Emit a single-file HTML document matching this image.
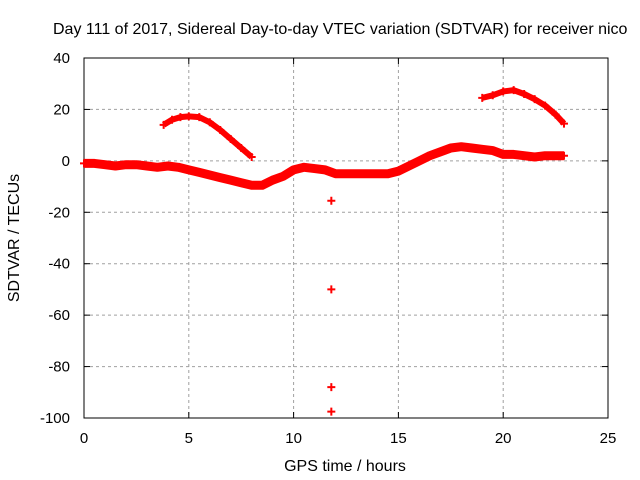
<!DOCTYPE html>
<html><head><meta charset="utf-8"><style>
body{margin:0;background:#fff}
svg{display:block;font-family:"Liberation Sans",sans-serif}
</style></head><body>
<svg id="c" width="640" height="480"></svg>
<script>
const mainT=[0,0.5,1,1.5,2,2.5,3,3.5,4,4.5,5,5.5,6,6.5,7,7.5,8,8.5,9,9.5,10,10.5,11,11.5,12,12.5,13,13.5,14,14.5,15,15.5,16,16.5,17,17.5,18,18.5,19,19.5,20,20.5,21,21.5,22,22.5,22.9];
const mainV=[-1,-1,-1.5,-2,-1.5,-1.5,-2,-2.5,-2,-2.5,-3.5,-4.5,-5.5,-6.5,-7.5,-8.5,-9.5,-9.5,-7.5,-6,-3.5,-2.5,-3,-3.5,-5,-5,-5,-5,-5,-5,-4,-2,0,2,3.5,5,5.5,5,4.5,4,2.5,2.5,2,1.5,2,2,2];
const arc1T=[3.8,4.2,4.6,5,5.5,6,6.5,7,7.5,8];
const arc1V=[14,16,17,17.3,17,15,12,8.5,5,1.5];
const arc2T=[19,19.5,20,20.5,21,21.5,22,22.5,22.9];
const arc2V=[24.5,25.5,27,27.5,26,24,21.5,18,14.5];
const outT=[11.8,11.8,11.8,11.8];
const outV=[-15.5,-50,-88,-97.5];
const xTicks=[0,5,10,15,20,25];
const yTicks=[40,20,0,-20,-40,-60,-80,-100];
const X0=84,X1=608,Y0=58,Y1=418;
const sx=v=>X0+(v-0)/(25-0)*(X1-X0);
const sy=v=>Y1-(v+100)/(140)*(Y1-Y0);
const svg=document.getElementById('c');
const NS='http://www.w3.org/2000/svg';
function mk(tag,attrs,parent){const e=document.createElementNS(NS,tag);for(const k in attrs)e.setAttribute(k,attrs[k]);(parent||svg).appendChild(e);return e;}
yTicks.forEach(v=>{if(v===40||v===-100)return;
 const g=mk('line',{x1:X0,x2:X1,y1:sy(v),y2:sy(v),stroke:'#a0a0a0','stroke-dasharray':'3,3'});
 
 });
xTicks.forEach(v=>{if(v===0||v===25)return;
 const g=mk('line',{x1:sx(v),x2:sx(v),y1:Y0,y2:Y1,stroke:'#a0a0a0','stroke-dasharray':'3,3'});
 
 });
const frame=mk('rect',{x:X0,y:Y0,width:X1-X0,height:Y1-Y0,fill:'none',stroke:'#000','stroke-width':1});


yTicks.forEach(v=>{
 mk('line',{x1:X0,x2:X0+6,y1:sy(v),y2:sy(v),stroke:'#000'});
 mk('line',{x1:X1,x2:X1-6,y1:sy(v),y2:sy(v),stroke:'#000'});
 const t=mk('text',{x:X0-14,y:sy(v)+5,'text-anchor':'end','font-size':15});t.textContent=v;
 
 });
xTicks.forEach(v=>{
 mk('line',{x1:sx(v),x2:sx(v),y1:Y1,y2:Y1-6,stroke:'#000'});
 mk('line',{x1:sx(v),x2:sx(v),y1:Y0,y2:Y0+6,stroke:'#000'});
 const t=mk('text',{x:sx(v),y:Y1+25,'text-anchor':'middle','font-size':15});t.textContent=v;
 
 });
function series(T,V,name,w){
 const pts=T.map((t,i)=>sx(t)+','+sy(V[i])).join(' ');
 const p=mk('polyline',{points:pts,fill:'none',stroke:'#ff0000','stroke-width':w,'stroke-linejoin':'round'});
 
 
 T.forEach((t,i)=>{const x=sx(t),y=sy(V[i]);
  const m=mk('path',{d:`M${x-4},${y}H${x+4}M${x},${y-4}V${y+4}`,stroke:'#ff0000','stroke-width':2});
  
  });
}
series(mainT,mainV,'main-band',9);
series(arc1T,arc1V,'arc-morning',6);
series(arc2T,arc2V,'arc-evening',6);
outT.forEach((t,i)=>{const x=sx(t),y=sy(outV[i]);
 const m=mk('path',{d:`M${x-4},${y}H${x+4}M${x},${y-4}V${y+4}`,stroke:'#ff0000','stroke-width':2});
 
 });
const title=mk('text',{x:53,y:34,'text-anchor':'start','font-size':16});
title.textContent='Day 111 of 2017, Sidereal Day-to-day VTEC variation (SDTVAR) for receiver nico';


const xl=mk('text',{x:345,y:471,'text-anchor':'middle','font-size':16});
xl.textContent='GPS time / hours';


const yl=mk('text',{x:0,y:0,'text-anchor':'middle','font-size':16,transform:'translate(19,238) rotate(-90)'});
yl.textContent='SDTVAR / TECUs';


</script>
</body></html>
